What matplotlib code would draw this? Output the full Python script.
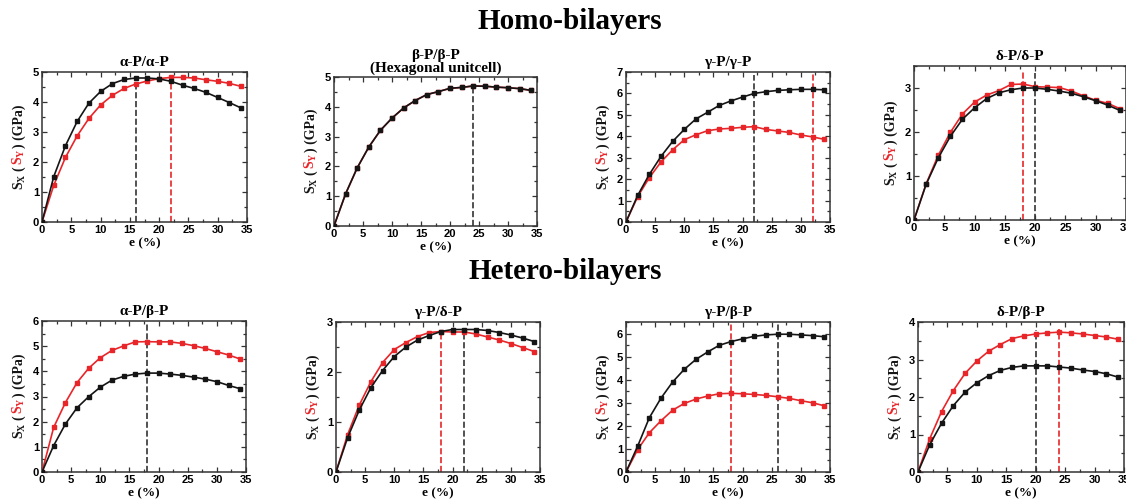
import numpy as np
import matplotlib
matplotlib.use('Agg')
import matplotlib.pyplot as plt
from matplotlib.ticker import MultipleLocator
from matplotlib.transforms import offset_copy

plt.rcParams['mathtext.fontset'] = 'custom'
plt.rcParams['mathtext.rm'] = 'Liberation Serif:bold'
plt.rcParams['mathtext.bf'] = 'Liberation Serif:bold'
plt.rcParams['mathtext.it'] = 'Liberation Serif:bold:italic'

RED = '#e8262a'
BLK = '#151515'

# strain (%)
strain = [0, 2, 4, 6, 8, 10, 12, 14, 16, 18, 20, 22, 24, 26, 28, 30, 32, 34]

# stress Sx (black) and Sy (red), GPa
aa_x = [0, 1.51, 2.54, 3.35, 3.96, 4.35, 4.61, 4.75, 4.80, 4.80, 4.77, 4.69, 4.56, 4.45, 4.32, 4.15, 3.98, 3.80]
aa_y = [0, 1.22, 2.15, 2.87, 3.45, 3.90, 4.22, 4.45, 4.60, 4.70, 4.78, 4.82, 4.82, 4.80, 4.74, 4.69, 4.62, 4.52]
bb_x = [0, 1.08, 1.95, 2.65, 3.21, 3.62, 3.96, 4.21, 4.41, 4.51, 4.62, 4.65, 4.70, 4.69, 4.66, 4.64, 4.61, 4.55]
bb_y = [0, 1.08, 1.95, 2.65, 3.21, 3.62, 3.96, 4.21, 4.41, 4.51, 4.62, 4.65, 4.70, 4.69, 4.66, 4.64, 4.61, 4.55]
gg_x = [0, 1.24, 2.22, 3.06, 3.76, 4.32, 4.81, 5.12, 5.44, 5.65, 5.83, 6.00, 6.08, 6.14, 6.17, 6.19, 6.19, 6.17]
gg_y = [0, 1.18, 2.07, 2.80, 3.37, 3.84, 4.07, 4.26, 4.34, 4.37, 4.42, 4.45, 4.32, 4.25, 4.18, 4.06, 3.97, 3.86]
dd_x = [0, 0.81, 1.41, 1.90, 2.29, 2.55, 2.76, 2.89, 2.96, 3.00, 3.00, 2.97, 2.93, 2.88, 2.80, 2.71, 2.61, 2.49]
dd_y = [0, 0.82, 1.47, 1.99, 2.41, 2.68, 2.84, 2.94, 3.08, 3.09, 3.03, 3.02, 3.01, 2.93, 2.82, 2.72, 2.65, 2.53]
ab_x = [0, 1.05, 1.90, 2.55, 2.99, 3.37, 3.65, 3.80, 3.89, 3.93, 3.93, 3.89, 3.84, 3.77, 3.69, 3.59, 3.44, 3.31]
ab_y = [0, 1.77, 2.75, 3.55, 4.12, 4.54, 4.83, 5.01, 5.17, 5.18, 5.17, 5.17, 5.11, 5.02, 4.91, 4.78, 4.65, 4.49]
gd_x = [0, 0.69, 1.24, 1.69, 2.03, 2.31, 2.50, 2.64, 2.73, 2.81, 2.85, 2.85, 2.85, 2.83, 2.79, 2.74, 2.68, 2.61]
gd_y = [0, 0.75, 1.34, 1.81, 2.19, 2.45, 2.59, 2.71, 2.79, 2.81, 2.80, 2.80, 2.76, 2.70, 2.64, 2.57, 2.49, 2.41]
gb_x = [0, 1.12, 2.35, 3.20, 3.90, 4.45, 4.88, 5.20, 5.49, 5.65, 5.77, 5.88, 5.94, 5.97, 5.97, 5.94, 5.91, 5.86]
gb_y = [0, 0.97, 1.70, 2.22, 2.68, 2.97, 3.16, 3.29, 3.39, 3.41, 3.39, 3.36, 3.32, 3.26, 3.19, 3.09, 3.00, 2.87]
db_x = [0, 0.73, 1.30, 1.77, 2.13, 2.38, 2.57, 2.71, 2.79, 2.83, 2.83, 2.83, 2.80, 2.77, 2.72, 2.68, 2.62, 2.53]
db_y = [0, 0.89, 1.61, 2.17, 2.63, 2.96, 3.22, 3.40, 3.56, 3.63, 3.68, 3.71, 3.73, 3.71, 3.68, 3.64, 3.60, 3.54]

titles = ['α-P/α-P', 'β-P/β-P\n(Hexagonal unitcell)', 'γ-P/γ-P', 'δ-P/δ-P',
          'α-P/β-P', 'γ-P/δ-P', 'γ-P/β-P', 'δ-P/β-P']
sx = [aa_x, bb_x, gg_x, dd_x, ab_x, gd_x, gb_x, db_x]
sy = [aa_y, bb_y, gg_y, dd_y, ab_y, gd_y, gb_y, db_y]
ymax = [5, 5, 7, 3.5, 6, 3, 6.5, 4]

# dashed markers: (strain, top, colour)
peaks = [
    [(16, 4.80, 'k'), (22, 4.82, 'r')],
    [(24, 4.70, 'k')],
    [(22, 6.84, 'k'), (32, 6.92, 'r')],
    [(18, 3.36, 'r'), (20, 3.33, 'k')],
    [(18, 5.90, 'k')],
    [(18, 2.83, 'r'), (22, 2.87, 'k')],
    [(18, 6.50, 'r'), (26, 6.40, 'k')],
    [(20, 3.79, 'k'), (24, 3.81, 'r')],
]

W, H = 1126, 499
# axes boxes in pixels: left, right, top, bottom
boxes = [(42, 247, 72, 222), (334, 537, 77, 226), (626, 830, 72, 222), (914, 1126, 66, 220),
         (42, 246, 321, 472), (336, 540, 322, 472), (626, 830, 322, 472), (918, 1124, 322, 472)]

fig = plt.figure(figsize=(W / 100, H / 100), dpi=100)
serif = 'Liberation Serif'


def ylabel_parts(ax):
    r = fig.canvas.get_renderer()
    parts = [(r'S$_\mathrm{X}$ (', BLK), (r'S$_\mathrm{Y}$', RED), (r') (GPa)', BLK)]
    texts = []
    for s, c in parts:
        t = ax.text(0, 0.5, s, color=c, rotation=90, rotation_mode='anchor',
                    ha='left', va='baseline', fontsize=10, fontweight='bold',
                    family=serif, transform=ax.transAxes)
        texts.append(t)
    lens = [t.get_window_extent(r).height for t in texts]
    y = -sum(lens) / 2
    for t, l in zip(texts, lens):
        t.set_transform(offset_copy(ax.transAxes, fig=fig, x=-19, y=y, units='dots'))
        y += l


for i in range(8):
    l, rr, t, b = boxes[i]
    ax = fig.add_axes([l / W, 1 - b / H, (rr - l) / W, (b - t) / H])
    ax.plot(strain, sy[i], '-s', color=RED, lw=1.2, ms=3.2, zorder=3)
    ax.plot(strain, sx[i], '-s', color=BLK, lw=1.2, ms=3.2, zorder=4)
    for xv, top, c in peaks[i]:
        ax.plot([xv, xv], [0, top], ls='--', lw=1.2,
                color=RED if c == 'r' else '#333333', zorder=2)
    ax.set_xlim(0, 35)
    ax.set_ylim(0, ymax[i])
    ax.xaxis.set_major_locator(MultipleLocator(5))
    ax.xaxis.set_minor_locator(MultipleLocator(2.5))
    ax.yaxis.set_major_locator(MultipleLocator(1))
    ax.yaxis.set_minor_locator(MultipleLocator(0.5))
    ax.tick_params(which='both', direction='in', top=True, right=True, width=0.9, color='#333333')
    ax.tick_params(which='major', length=3.5, labelsize=8, pad=2)
    ax.tick_params(which='minor', length=2)
    for lab in ax.get_xticklabels() + ax.get_yticklabels():
        lab.set_fontweight('bold')
        lab.set_family('Liberation Sans')
    for sp in ax.spines.values():
        sp.set_linewidth(1.1)
        sp.set_color('#333333')
    ax.set_xlabel('e (%)', fontsize=9.5, fontweight='bold', family=serif, labelpad=1.5)
    ax.set_title(titles[i], fontsize=11, fontweight='bold', family=serif, pad=4,
                 linespacing=0.9)
    ylabel_parts(ax)

fig.text(0.506, 0.956, 'Homo-bilayers', ha='center', va='center', fontsize=21,
         fontweight='bold', family=serif)
fig.text(0.502, 0.455, 'Hetero-bilayers', ha='center', va='center', fontsize=21,
         fontweight='bold', family=serif)

fig.savefig('out.png', dpi=100)
